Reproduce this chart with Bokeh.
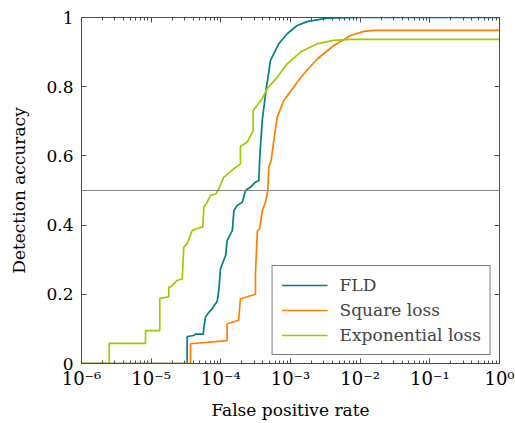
from bokeh.plotting import figure
from bokeh.models import (LogAxis, LinearAxis, FixedTicker, Span, Legend, LegendItem,
                          Range1d)
from bokeh.embed import file_html
from bokeh.resources import INLINE

# ---- data ----
fld_x = [1e-6, 3.29e-5, 3.29e-5, 4.09e-5, 4.3e-5, 5.6e-5, 5.7e-5, 6.03e-5, 6.72e-5, 7.5e-5,
         8.87e-5, 9.35e-5, 9.89e-5, 1.17e-4, 1.23e-4, 1.46e-4, 1.54e-4, 1.72e-4, 2.03e-4,
         2.26e-4, 2.67e-4, 3.14e-4, 3.51e-4, 3.62e-4, 3.93e-4, 4.52e-4, 4.72e-4, 5.16e-4,
         6.09e-4, 6.79e-4, 8.96e-4, 1.25e-3, 1.73e-3, 3.36e-3, 1e-2, 1.0]
fld_y = [0, 0, 0.078, 0.081, 0.085, 0.085, 0.105, 0.134, 0.148, 0.158,
         0.18, 0.211, 0.274, 0.312, 0.355, 0.384, 0.442, 0.457, 0.466,
         0.5, 0.51, 0.524, 0.529, 0.596, 0.702, 0.8, 0.823, 0.876,
         0.905, 0.924, 0.953, 0.977, 0.988, 0.998, 1.0, 1.0]

sq_x = [1e-6, 3.67e-5, 3.67e-5, 1.23e-4, 1.23e-4, 1.8e-4, 1.91e-4, 3.14e-4, 3.14e-4, 3.35e-4,
        3.6e-4, 3.93e-4, 4.38e-4, 4.72e-4, 4.88e-4, 5.28e-4, 5.76e-4, 6.44e-4, 8.0e-4,
        9.5e-4, 1.39e-3, 2.41e-3, 4.19e-3, 7.26e-3, 1.13e-2, 1.57e-2, 1.0]
sq_y = [0, 0, 0.057, 0.066, 0.115, 0.125, 0.187, 0.2, 0.26, 0.384,
        0.389, 0.442, 0.466, 0.5, 0.567, 0.587, 0.645, 0.712, 0.76,
        0.78, 0.826, 0.88, 0.919, 0.948, 0.96, 0.963, 0.963]

exp_x = [1e-6, 2.5e-6, 2.5e-6, 8.3e-6, 8.3e-6, 1.33e-5, 1.33e-5, 1.79e-5, 1.79e-5, 2.0e-5,
         2.36e-5, 2.79e-5, 2.94e-5, 3.29e-5, 3.88e-5, 4.57e-5, 5.5e-5, 5.7e-5, 6.2e-5,
         7.1e-5, 8.5e-5, 9.35e-5, 1.05e-4, 1.1e-4, 1.54e-4, 1.91e-4, 1.91e-4, 2.39e-4,
         2.91e-4, 2.91e-4, 3.92e-4, 4.62e-4, 6.44e-4, 8.96e-4, 1.39e-3, 2.41e-3, 4.19e-3,
         7.3e-3, 1.0]
exp_y = [0, 0, 0.058, 0.058, 0.095, 0.095, 0.188, 0.193, 0.22, 0.225,
         0.24, 0.245, 0.336, 0.347, 0.384, 0.39, 0.395, 0.452, 0.462,
         0.486, 0.49, 0.505, 0.529, 0.538, 0.563, 0.577, 0.627, 0.64,
         0.673, 0.731, 0.765, 0.794, 0.827, 0.866, 0.90, 0.924, 0.934,
         0.937, 0.937]

series_names = ["FLD", "Square loss", "Exponential loss"]
series_colors = ["#008080", "#ff8000", "#9acd00"]

x_ticks = [1e-6, 1e-5, 1e-4, 1e-3, 1e-2, 1e-1, 1.0]
x_tick_labels = ["10⁻⁶", "10⁻⁵", "10⁻⁴", "10⁻³", "10⁻²", "10⁻¹", "10⁰"]
y_ticks = [0, 0.2, 0.4, 0.6, 0.8, 1]
y_tick_labels = ["0", "0.2", "0.4", "0.6", "0.8", "1"]
threshold = 0.5

FONT = "DejaVu Serif"
AXIS_COLOR = "#4d4d4d"

minor = [k * 10.0 ** e for e in range(-6, 0) for k in range(2, 10)]

p = figure(width=515, height=423, x_axis_type="log",
           x_range=Range1d(1e-6, 1.0), y_range=Range1d(0, 1),
           output_backend="svg", toolbar_location=None,
           min_border_left=81, min_border_top=17, min_border_right=16, min_border_bottom=60)
p.grid.visible = False
p.outline_line_color = AXIS_COLOR

xa = p.xaxis[0]
xa.ticker = FixedTicker(ticks=x_ticks, minor_ticks=minor)
xa.major_label_overrides = {t: l for t, l in zip(x_ticks, x_tick_labels)}
xa.axis_label = "False positive rate"

ya = p.yaxis[0]
ya.ticker = FixedTicker(ticks=y_ticks)
ya.major_label_overrides = {t: l for t, l in zip(y_ticks, y_tick_labels)}
ya.axis_label = "Detection accuracy"

for ax in (xa, ya):
    ax.axis_line_color = AXIS_COLOR
    ax.major_tick_line_color = AXIS_COLOR
    ax.minor_tick_line_color = AXIS_COLOR
    ax.major_tick_in = 5
    ax.major_tick_out = 0
    ax.minor_tick_in = 3
    ax.minor_tick_out = 0
    ax.major_label_text_font = FONT
    ax.major_label_text_font_size = "17px"
    ax.major_label_text_color = "black"
    ax.axis_label_text_font = FONT
    ax.axis_label_text_font_size = "17px"
    ax.axis_label_text_font_style = "normal"
    ax.axis_label_text_color = "black"
xa.major_label_text_font_size = "18px"
xa.major_label_standoff = 4
ya.major_label_standoff = 8
xa.axis_label_standoff = 8
ya.axis_label_standoff = 14

# mirror axes (tick marks only)
top = LogAxis(ticker=FixedTicker(ticks=x_ticks, minor_ticks=minor),
              major_label_text_alpha=0, major_label_text_font_size="2px",
              major_label_standoff=0,
              major_tick_in=5, major_tick_out=0,
              minor_tick_in=3, minor_tick_out=0, axis_line_color=AXIS_COLOR,
              major_tick_line_color=AXIS_COLOR, minor_tick_line_color=AXIS_COLOR)
p.add_layout(top, "above")
right = LinearAxis(ticker=FixedTicker(ticks=y_ticks),
                   major_label_text_alpha=0, major_label_text_font_size="2px",
                   major_label_standoff=0,
                   major_tick_in=5, major_tick_out=0,
                   minor_tick_in=0, minor_tick_out=0, axis_line_color=AXIS_COLOR,
                   major_tick_line_color=AXIS_COLOR)
p.add_layout(right, "right")

p.add_layout(Span(location=threshold, dimension="width", line_color="#888888", line_width=1))

items = []
for xs, ys, name, col in zip([fld_x, sq_x, exp_x], [fld_y, sq_y, exp_y], series_names, series_colors):
    r = p.line(xs, ys, line_color=col, line_width=1.7)
    items.append(LegendItem(label=name, renderers=[r]))

legend = Legend(items=items, location="bottom_right")
legend.border_line_color = "black"
legend.border_line_width = 1
legend.label_text_font = FONT
legend.label_text_font_size = "17px"
legend.glyph_width = 46
legend.label_standoff = 12
legend.padding = 9
legend.spacing = 5
legend.margin = 8
p.add_layout(legend)

open("out.html", "w").write(file_html(p, INLINE))
